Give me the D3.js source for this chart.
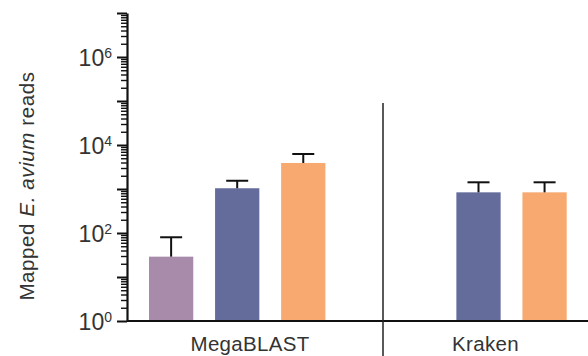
<!DOCTYPE html>
<meta charset="utf-8">
<style>
  body { margin: 0; background: #fff; }
  text { font-family: "Liberation Sans", Arial, sans-serif; fill: #333; }
</style>
<body>
<svg id="chart" width="588" height="356"></svg>
</body>
<script src="https://d3js.org/d3.v7.min.js"></script>
<script>

// data (mean and top of error bar)
var groups = ["MegaBLAST", "Kraken"];
var series = ["s1", "s2", "s3"];
var colors = ["#a88bab", "#646c9c", "#f7a96f"];
var megablastMean = [29, 1040, 3900];
var megablastUpper = [80, 1540, 6240];
var krakenMean = [null, 840, 840];
var krakenUpper = [null, 1420, 1420];
var majorTicks = [1, 1e1, 1e2, 1e3, 1e4, 1e5, 1e6, 1e7];
var labelTicks = [0, 2, 4, 6];

var rows = [];
series.forEach(function(s, i) {
  rows.push({group: "MegaBLAST", series: s, mean: megablastMean[i], upper: megablastUpper[i], color: colors[i]});
  rows.push({group: "Kraken", series: s, mean: krakenMean[i], upper: krakenUpper[i], color: colors[i]});
});
rows = rows.filter(function(d) { return d.mean != null; });

var svg = d3.select("#chart"),
    axisX = 127,
    baseY = 321,
    dividerX = 383,
    width = +svg.attr("width");

var y = d3.scaleLog()
    .domain([1, 1e7])
    .range([baseY, 13]);

var x0 = d3.scaleBand()
    .domain(groups)
    .range([149, 566.7])
    .paddingInner(0.269)
    .paddingOuter(0);

var x1 = d3.scaleBand()
    .domain(series)
    .range([0, x0.bandwidth()])
    .paddingInner(0.33)
    .paddingOuter(0);

// bars
svg.selectAll(".bar")
  .data(rows)
  .enter().append("rect")
    .attr("class", "bar")
    .attr("x", function(d) { return x0(d.group) + x1(d.series); })
    .attr("y", function(d) { return y(d.mean); })
    .attr("width", x1.bandwidth())
    .attr("height", function(d) { return y(1) - y(d.mean); })
    .attr("fill", function(d) { return d.color; });

// upper error bars
var err = svg.selectAll(".err")
  .data(rows)
  .enter().append("g")
    .attr("class", "err")
    .attr("stroke", "#111")
    .attr("stroke-width", 2);

err.append("line")
    .attr("x1", function(d) { return x0(d.group) + x1(d.series) + x1.bandwidth() / 2; })
    .attr("x2", function(d) { return x0(d.group) + x1(d.series) + x1.bandwidth() / 2; })
    .attr("y1", function(d) { return y(d.mean); })
    .attr("y2", function(d) { return y(d.upper); });

err.append("line")
    .attr("x1", function(d) { return x0(d.group) + x1(d.series) + x1.bandwidth() / 2 - 11; })
    .attr("x2", function(d) { return x0(d.group) + x1(d.series) + x1.bandwidth() / 2 + 11; })
    .attr("y1", function(d) { return y(d.upper); })
    .attr("y2", function(d) { return y(d.upper); });

// y axis: minor ticks then major ticks
var minor = y.ticks().filter(function(v) { return majorTicks.indexOf(v) < 0; });

svg.append("g")
    .attr("transform", "translate(" + axisX + ",0)")
    .call(d3.axisLeft(y).tickValues(minor).tickSize(6).tickFormat(""))
    .call(function(g) {
      g.select(".domain").remove();
      g.selectAll(".tick line").attr("stroke", "#111").attr("stroke-width", 1.4);
    });

svg.append("g")
    .attr("transform", "translate(" + axisX + ",0)")
    .call(d3.axisLeft(y).tickValues(majorTicks).tickSize(10).tickSizeOuter(0).tickFormat(""))
    .call(function(g) {
      g.select(".domain").attr("stroke", "#111").attr("stroke-width", 2.2);
      g.selectAll(".tick line").attr("stroke", "#111").attr("stroke-width", 2);
    });

var lab = svg.selectAll(".ylab")
  .data(labelTicks)
  .enter().append("text")
    .attr("class", "ylab")
    .attr("x", axisX - 15)
    .attr("y", function(d) { return y(Math.pow(10, d)); })
    .attr("dy", "0.4em")
    .attr("text-anchor", "end")
    .style("font-size", "23px");

lab.append("tspan").text("10");
lab.append("tspan")
    .attr("dy", "-0.6em")
    .style("font-size", "14px")
    .text(function(d) { return d; });

// baseline and divider
svg.append("line")
    .attr("x1", axisX).attr("x2", width)
    .attr("y1", baseY).attr("y2", baseY)
    .attr("stroke", "#111").attr("stroke-width", 2.2);

svg.append("line")
    .attr("x1", dividerX).attr("x2", dividerX)
    .attr("y1", 103).attr("y2", 356)
    .attr("stroke", "#222").attr("stroke-width", 1.5);

// group labels
var panelCenter = {"MegaBLAST": (axisX + dividerX) / 2 - 5, "Kraken": (dividerX + width) / 2};
svg.selectAll(".glab")
  .data(groups)
  .enter().append("text")
    .attr("class", "glab")
    .attr("x", function(d) { return panelCenter[d]; })
    .attr("y", 351)
    .attr("text-anchor", "middle")
    .style("font-size", "20.5px")
    .style("letter-spacing", "0.3px")
    .text(function(d) { return d; });

// y axis title
var yt = svg.append("text")
    .attr("transform", "translate(34,186) rotate(-90)")
    .attr("text-anchor", "middle")
    .style("font-size", "20.5px")
    .style("letter-spacing", "0.6px");
yt.append("tspan").text("Mapped ");
yt.append("tspan").style("font-style", "italic").text("E. avium");
yt.append("tspan").text(" reads");

</script>
